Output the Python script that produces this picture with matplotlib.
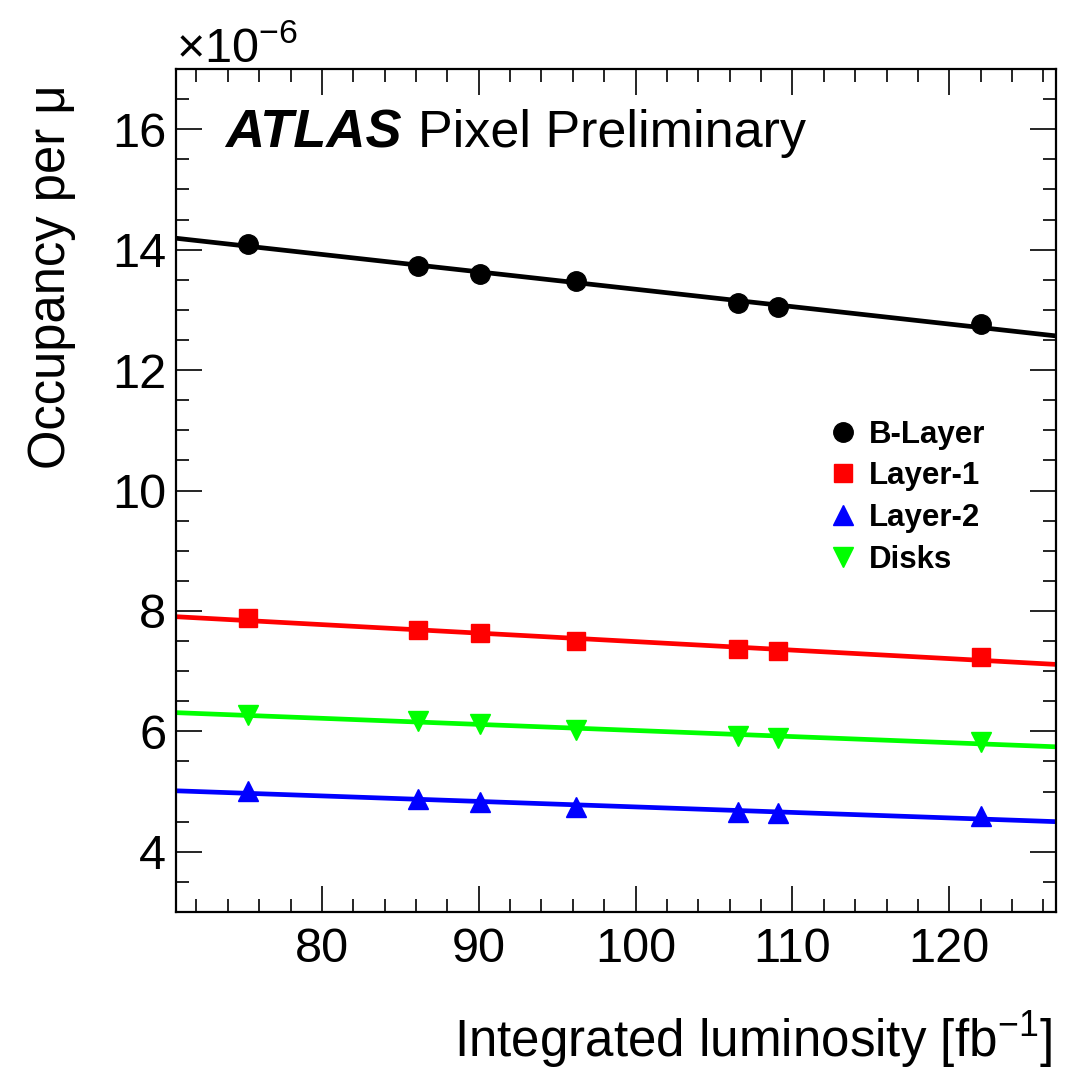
import numpy as np
import matplotlib
matplotlib.use("Agg")
import matplotlib.pyplot as plt
from matplotlib.ticker import MultipleLocator

plt.rcParams['font.family'] = ['Liberation Sans', 'DejaVu Sans']
plt.rcParams['mathtext.fontset'] = 'custom'
plt.rcParams['mathtext.rm'] = 'Liberation Sans'
plt.rcParams['mathtext.it'] = 'Liberation Sans:italic'

# integrated luminosity [fb^-1]
lumi = [75.3, 86.1, 90.1, 96.2, 106.5, 109.1, 122.0]

# occupancy per mu (x 1e-6)
b_layer = [14.10, 13.73, 13.59, 13.48, 13.12, 13.04, 12.76]
layer_1 = [7.88, 7.68, 7.64, 7.50, 7.37, 7.33, 7.24]
layer_2 = [5.01, 4.87, 4.83, 4.74, 4.66, 4.65, 4.59]
disks = [6.27, 6.17, 6.13, 6.03, 5.93, 5.89, 5.83]

series = [
    ("B-Layer", b_layer, "black", "o", 14),
    ("Layer-1", layer_1, "#ff0000", "s", 13),
    ("Layer-2", layer_2, "#0000ff", "^", 14),
    ("Disks", disks, "#00ff00", "v", 14),
]

XMIN, XMAX = 70.7, 126.8

fig = plt.figure(figsize=(10.79, 10.72), dpi=100)
ax = fig.add_axes([176 / 1079, 1 - 912 / 1072, (1056 - 176) / 1079, (912 - 69) / 1072])

xfit = np.array([XMIN, XMAX])
for name, vals, col, mk, ms in series:
    # linear fit drawn across the whole range
    p = np.polyfit(lumi, vals, 1)
    ax.plot(xfit, np.polyval(p, xfit), color=col, lw=3.4, zorder=2)
    ax.plot(lumi, vals, ls="none", marker=mk, ms=ms, color=col, label=name, zorder=3)

ax.set_xlim(XMIN, XMAX)
ax.set_ylim(3, 17)
ax.xaxis.set_major_locator(MultipleLocator(10))
ax.xaxis.set_minor_locator(MultipleLocator(2))
ax.yaxis.set_major_locator(MultipleLocator(2))
ax.yaxis.set_minor_locator(MultipleLocator(0.5))
ax.tick_params(which="both", direction="in", top=True, right=True, width=1.2)
ax.tick_params(which="major", length=19, labelsize=35)
ax.tick_params(which="minor", length=9.5)
ax.tick_params(axis="x", pad=11)
ax.tick_params(axis="y", pad=7)
for s in ax.spines.values():
    s.set_linewidth(1.6)

leg = ax.legend(loc="upper left", bbox_to_anchor=(0.7295, 0.599), frameon=False,
                prop={"weight": "bold", "size": 22.5}, handlelength=0.8,
                handletextpad=0.42, labelspacing=0.38, borderaxespad=0, markerscale=1.0)

fig.text(225 / 1079, 1 - 147 / 1072, "ATLAS", fontsize=39, fontweight="bold",
         fontstyle="italic", va="baseline", ha="left")
fig.text(418 / 1079, 1 - 147 / 1072, "Pixel Preliminary", fontsize=37.5,
         va="baseline", ha="left")

fig.text(176 / 1079, 1 - 62 / 1072, r"$\times10^{-6}$", fontsize=35,
         va="baseline", ha="left")

fig.text(52 / 1079, 1 - 84 / 1072, "Occupancy per μ", fontsize=36.5, rotation=90,
         ha="center", va="top")
fig.text(1052 / 1079, 1 - 1040 / 1072, r"Integrated luminosity [fb$^{\mathregular{-1}}$]",
         fontsize=36.8, ha="right", va="center")

fig.savefig("out.png", dpi=100)
